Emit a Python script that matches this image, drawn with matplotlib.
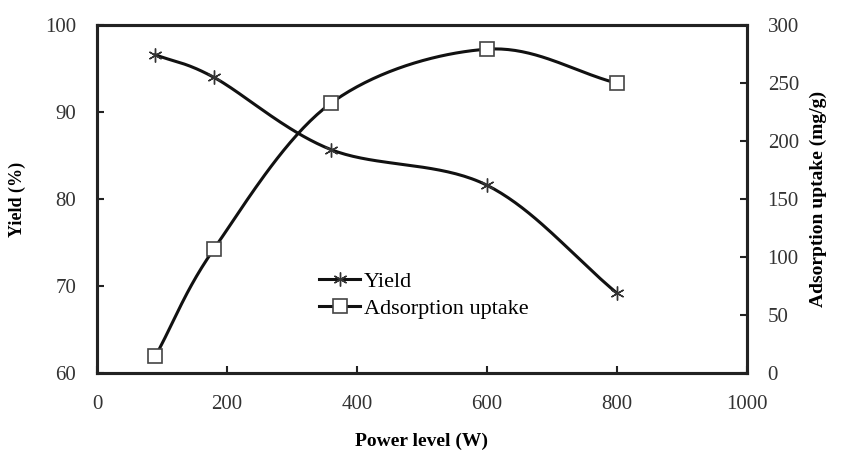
# Yield and adsorption uptake against microwave power level
import numpy as np
import matplotlib.pyplot as plt

power = [90, 180, 360, 600, 800]
yield_pct = [96.6, 94.0, 85.7, 81.6, 69.2]
uptake = [14.6, 107, 232.7, 279.3, 250]


def smooth(xs, ys, n=40):
    # Catmull-Rom curve through the points, like Excel's smoothed line
    x = np.asarray(xs, float)
    y = np.asarray(ys, float)
    px = np.concatenate([[2 * x[0] - x[1]], x, [2 * x[-1] - x[-2]]])
    py = np.concatenate([[2 * y[0] - y[1]], y, [2 * y[-1] - y[-2]]])
    t = np.linspace(0, 1, n)
    outx, outy = [], []
    for i in range(1, len(px) - 2):
        for p, out in ((px, outx), (py, outy)):
            p0, p1, p2, p3 = p[i - 1], p[i], p[i + 1], p[i + 2]
            out.extend(0.5 * (2 * p1 + (-p0 + p2) * t
                              + (2 * p0 - 5 * p1 + 4 * p2 - p3) * t ** 2
                              + (-p0 + 3 * p1 - 3 * p2 + p3) * t ** 3))
    return outx, outy


plt.rcParams['font.family'] = ['Liberation Serif', 'DejaVu Serif']
plt.rcParams['font.size'] = 13

fig = plt.figure(figsize=(8.41, 4.5), dpi=100)
ax = fig.add_axes([0.1153, 0.171, 0.7727, 0.773])
ax2 = ax.twinx()

sx, sy = smooth(power, yield_pct)
ax.plot(sx, sy, color='#111111', lw=2.2)
ax.plot(power, yield_pct, ls='none', marker=(6, 2, 0), ms=10,
        mec='#333333', mew=1.0)

sx, sy = smooth(power, uptake)
ax2.plot(sx, sy, color='#111111', lw=2.2)
ax2.plot(power, uptake, ls='none', marker='s', ms=10,
         mfc='white', mec='#444444', mew=1.2)

# legend handles
h1, = ax.plot([], [], color='#111111', lw=2.2, marker=(6, 2, 0), ms=10,
              mec='#333333', mew=1.0)
h2, = ax.plot([], [], color='#111111', lw=2.2, marker='s', ms=10,
              mfc='white', mec='#444444', mew=1.2)
ax.legend([h1, h2], ['Yield', 'Adsorption uptake'], frameon=False,
          loc='upper left', bbox_to_anchor=(0.325, 0.325), handlelength=1.85,
          handletextpad=0.15, labelspacing=0.3, fontsize=16, borderpad=0)

ax.set_xlim(0, 1000)
ax.set_ylim(60, 100)
ax2.set_ylim(0, 300)
ax.set_xticks(range(0, 1001, 200))
ax.set_yticks(range(60, 101, 10))
ax2.set_yticks(range(0, 301, 50))

for a in (ax, ax2):
    for s in a.spines.values():
        s.set_linewidth(2.2)
        s.set_color('#222222')
    a.tick_params(direction='in', length=5, width=1.5, colors='#222222',
                  labelsize=15, labelcolor='#333333')
ax.tick_params(axis='x', pad=16)
ax.tick_params(axis='y', pad=15)
ax2.tick_params(axis='y', pad=15)

ax.set_xlabel('Power level (W)', fontweight='bold', fontsize=14, labelpad=13)
ax.set_ylabel('Yield (%)', fontweight='bold', fontsize=13, labelpad=14)
ax2.set_ylabel('Adsorption uptake (mg/g)', fontweight='bold', fontsize=14,
               labelpad=8)

fig.savefig('out.png', dpi=100)
